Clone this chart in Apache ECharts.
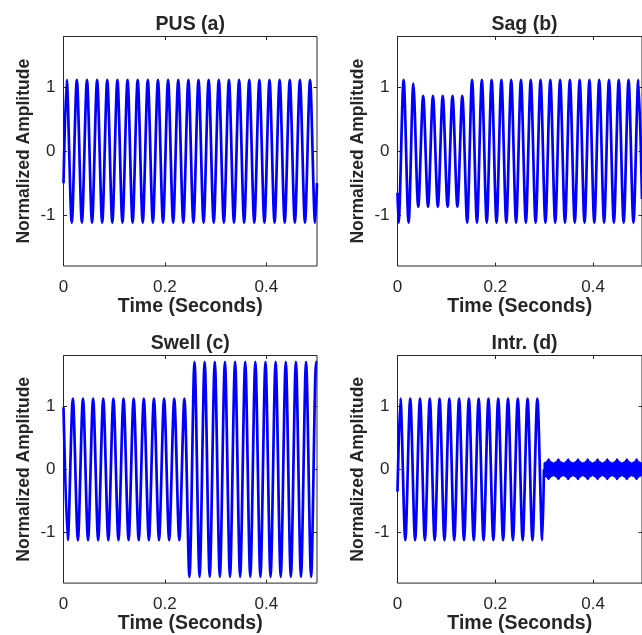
<!DOCTYPE html>
<html>
<head>
<meta charset="utf-8">
<script src="https://cdn.jsdelivr.net/npm/echarts@6/dist/echarts.min.js"></script>
<style>
html,body{margin:0;padding:0;background:#fff;}
#chart{width:642px;height:635px;}
</style>
</head>
<body>
<div id="chart"></div>
<script>
// ---- tick labels / texts ----
const xTicks = [0, 0.2, 0.4];
const yTicks = [-1, 0, 1];
const titles = ['PUS (a)', 'Sag (b)', 'Swell (c)', 'Intr. (d)'];
const xName = 'Time (Seconds)';
const yName = 'Normalized Amplitude';

// ---- (a) pure sinusoid: vertex times (s) and amplitudes ----
const pusT = [0,
  0.0063,0.0163,0.0263,0.0363,0.0463,0.0563,0.0663,0.0763,0.0863,0.0963,
  0.1063,0.1163,0.1263,0.1363,0.1463,0.1563,0.1663,0.1763,0.1863,0.1963,
  0.2063,0.2163,0.2263,0.2363,0.2463,0.2563,0.2663,0.2763,0.2863,0.2963,
  0.3063,0.3163,0.3263,0.3363,0.3463,0.3563,0.3663,0.3763,0.3863,0.3963,
  0.4063,0.4163,0.4263,0.4363,0.4463,0.4563,0.4663,0.4763,0.4863,0.4963,
  0.5];
const pusV = [-0.50,
  1.12,-1.12,1.12,-1.12,1.12,-1.12,1.12,-1.12,1.12,-1.12,
  1.12,-1.12,1.12,-1.12,1.12,-1.12,1.12,-1.12,1.12,-1.12,
  1.12,-1.12,1.12,-1.12,1.12,-1.12,1.12,-1.12,1.12,-1.12,
  1.12,-1.12,1.12,-1.12,1.12,-1.12,1.12,-1.12,1.12,-1.12,
  1.12,-1.12,1.12,-1.12,1.12,-1.12,1.12,-1.12,1.12,-1.12,
  -0.50];

// ---- (b) sag ----
const sagT = [0, 0.0022, 0.0125, 0.0227, 0.0325, 0.0345,
  0.0425,0.0525,0.0625,0.0725,0.0825,0.0925,0.1025,0.1125,0.1225,0.1325,
  0.1425,0.1525,0.1625,0.1725,0.1825,0.1925,0.2025,0.2125,0.2225,0.2325,
  0.2425,0.2525,0.2625,0.2725,0.2825,0.2925,0.3025,0.3125,0.3225,0.3325,
  0.3425,0.3525,0.3625,0.3725,0.3825,0.3925,0.4025,0.4125,0.4225,0.4325,
  0.4425,0.4525,0.4625,0.4725,0.4825,0.4925,
  0.5];
const sagV = [-0.65, -1.12, 1.12, -1.12, 1.06, 0.80,
  -0.87,0.87,-0.87,0.87,-0.87,0.87,-0.87,0.87,-0.87,0.87,
  -1.12,1.12,-1.12,1.12,-1.12,1.12,-1.12,1.12,-1.12,1.12,
  -1.12,1.12,-1.12,1.12,-1.12,1.12,-1.12,1.12,-1.12,1.12,
  -1.12,1.12,-1.12,1.12,-1.12,1.12,-1.12,1.12,-1.12,1.12,
  -1.12,1.12,-1.12,1.12,-1.12,1.12,
  -0.75];

// ---- (c) swell ----
const swellT = [0,
  0.0084,0.0184,0.0284,0.0384,0.0484,0.0584,0.0684,0.0784,0.0884,0.0984,
  0.1084,0.1184,0.1284,0.1384,0.1484,0.1584,0.1684,0.1784,0.1884,0.1984,
  0.2084,0.2184,0.2284,0.2384,0.2484,0.2584,0.2684,0.2784,0.2884,0.2984,
  0.3084,0.3184,0.3284,0.3384,0.3484,0.3584,0.3684,0.3784,0.3884,0.3984,
  0.4084,0.4184,0.4284,0.4384,0.4484,0.4584,0.4684,0.4784,0.4884,0.4984,
  0.5];
const swellV = [0.98,
  -1.12,1.12,-1.12,1.12,-1.12,1.12,-1.12,1.12,-1.12,1.12,
  -1.12,1.12,-1.12,1.12,-1.12,1.12,-1.12,1.12,-1.12,1.12,
  -1.12,1.12,-1.12,1.12,-1.70,1.70,-1.70,1.70,-1.70,1.70,
  -1.70,1.70,-1.70,1.70,-1.70,1.70,-1.70,1.70,-1.70,1.70,
  -1.70,1.70,-1.70,1.70,-1.70,1.70,-1.70,1.70,-1.70,1.70,
  1.69];

// ---- (d) interruption: wave part ----
const intrT = [0,
  0.006,0.016,0.026,0.036,0.046,0.056,0.066,0.076,0.086,0.096,
  0.106,0.116,0.126,0.136,0.146,0.156,0.166,0.176,0.186,0.196,
  0.206,0.216,0.226,0.236,0.246,0.256,0.266,0.276,0.286,0.296,
  0.2995];
const intrV = [-0.35,
  1.12,-1.12,1.12,-1.12,1.12,-1.12,1.12,-1.12,1.12,-1.12,
  1.12,-1.12,1.12,-1.12,1.12,-1.12,1.12,-1.12,1.12,-1.12,
  1.12,-1.12,1.12,-1.12,1.12,-1.12,1.12,-1.12,1.12,-1.12,
  0.00];
// ---- (d) interruption: residual band envelope ----
const bandT = [0.2995,
  0.305,0.309,0.313,0.319, 0.325,0.329,0.333,0.339, 0.345,0.349,0.353,0.359,
  0.365,0.369,0.373,0.379, 0.385,0.389,0.393,0.399, 0.405,0.409,0.413,0.419,
  0.425,0.429,0.433,0.439, 0.445,0.449,0.453,0.459, 0.465,0.469,0.473,0.479,
  0.485,0.489,0.493,0.499,
  0.5];
const bandUp = [0.10,
  0.125,0.17,0.125,0.10, 0.125,0.17,0.125,0.10, 0.125,0.17,0.125,0.10,
  0.125,0.17,0.125,0.10, 0.125,0.17,0.125,0.10, 0.125,0.17,0.125,0.10,
  0.125,0.17,0.125,0.10, 0.125,0.17,0.125,0.10, 0.125,0.17,0.125,0.10,
  0.125,0.17,0.125,0.10,
  0.10];
const bandLo = [-0.10,
  -0.125,-0.17,-0.125,-0.10, -0.125,-0.17,-0.125,-0.10, -0.125,-0.17,-0.125,-0.10,
  -0.125,-0.17,-0.125,-0.10, -0.125,-0.17,-0.125,-0.10, -0.125,-0.17,-0.125,-0.10,
  -0.125,-0.17,-0.125,-0.10, -0.125,-0.17,-0.125,-0.10, -0.125,-0.17,-0.125,-0.10,
  -0.125,-0.17,-0.125,-0.10,
  -0.10];

// ---- build option ----
const FONT = 'Liberation Sans, Arial, Helvetica, sans-serif';
const AX = '#262626';
const BLUE = '#0000ff';
const grids = [
  {left: 63.5, top: 36.5, width: 253.5, height: 229.5},
  {left: 397.5, top: 36.5, width: 254, height: 229.5},
  {left: 63.5, top: 355.5, width: 253.5, height: 229},
  {left: 397.5, top: 355.5, width: 254, height: 229}
];

const option = {
  animation: false,
  backgroundColor: '#fff',
  title: [], grid: [], xAxis: [], yAxis: [], series: []
};

grids.forEach((g, i) => {
  option.grid.push(Object.assign({show: true, borderColor: AX, borderWidth: 1, backgroundColor: '#fff', containLabel: false}, g));
  option.title.push({
    text: titles[i], left: g.left + g.width / 2, top: g.top - 22, textAlign: 'center', padding: 0,
    textStyle: {fontFamily: FONT, fontWeight: 'bold', fontSize: 19.5, color: AX}
  });
  const tick = {show: true, inside: true, length: 3.5, lineStyle: {color: AX, width: 1}};
  const line = {show: false, onZero: false};
  option.xAxis.push({
    gridIndex: i, type: 'value', min: 0, max: 0.5, position: 'bottom',
    axisLine: line, splitLine: {show: false},
    axisTick: Object.assign({customValues: xTicks}, tick),
    axisLabel: {customValues: xTicks, margin: 13, color: AX, fontSize: 17, fontFamily: FONT},
    name: xName, nameLocation: 'middle', nameGap: 29.5,
    nameTextStyle: {fontFamily: FONT, fontWeight: 'bold', fontSize: 19.5, color: AX}
  });
  option.xAxis.push({
    gridIndex: i, type: 'value', min: 0, max: 0.5, position: 'top',
    axisLine: line, splitLine: {show: false},
    axisTick: Object.assign({customValues: xTicks}, tick),
    axisLabel: {show: false}
  });
  option.yAxis.push({
    gridIndex: i, type: 'value', min: -1.8, max: 1.8, position: 'left',
    axisLine: line, splitLine: {show: false},
    axisTick: Object.assign({customValues: yTicks}, tick),
    axisLabel: {customValues: yTicks, margin: 8, color: AX, fontSize: 17, fontFamily: FONT},
    name: yName, nameLocation: 'middle', nameGap: 30,
    nameTextStyle: {fontFamily: FONT, fontWeight: 'bold', fontSize: 17.5, color: AX}
  });
  option.yAxis.push({
    gridIndex: i, type: 'value', min: -1.8, max: 1.8, position: 'right',
    axisLine: line, splitLine: {show: false},
    axisTick: Object.assign({customValues: yTicks}, tick),
    axisLabel: {show: false}
  });
});

const waves = [[pusT, pusV], [sagT, sagV], [swellT, swellV], [intrT, intrV]];
waves.forEach((w, i) => {
  option.series.push({
    type: 'line', xAxisIndex: 2 * i, yAxisIndex: 2 * i,
    data: w[0].map((t, k) => [t, w[1][k]]),
    showSymbol: false, smooth: 0.3, clip: true, z: 3,
    lineStyle: {color: BLUE, width: 2.7, join: 'round'},
    emphasis: {disabled: true}
  });
});

option.series.push({
  type: 'custom', coordinateSystem: 'cartesian2d', xAxisIndex: 6, yAxisIndex: 6,
  data: [[bandT[0], 0]], clip: true, z: 3,
  renderItem: function (params, api) {
    const pts = [];
    for (let k = 0; k < bandT.length; k++) pts.push(api.coord([bandT[k], bandUp[k]]));
    for (let k = bandT.length - 1; k >= 0; k--) pts.push(api.coord([bandT[k], bandLo[k]]));
    return {type: 'polygon', shape: {points: pts}, style: {fill: BLUE, stroke: BLUE, lineWidth: 1}};
  }
});

const chart = echarts.init(document.getElementById('chart'), null, {renderer: 'canvas'});
chart.setOption(option);
</script>
</body>
</html>
